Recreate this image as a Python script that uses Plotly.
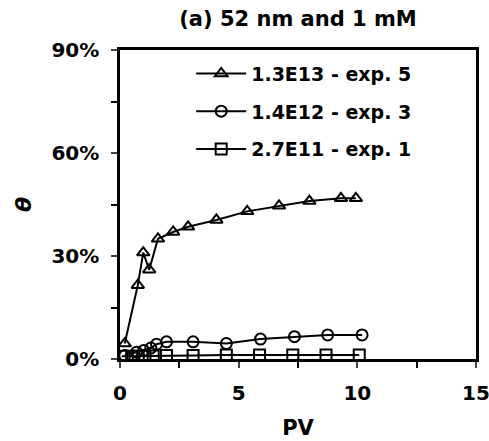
import plotly.graph_objects as go

# exp. 5 (1.3E13)
pv_exp5 = [0.2, 0.75, 0.98, 1.23, 1.6, 2.24, 2.87, 4.06, 5.36, 6.7, 7.98, 9.31, 9.94]
theta_exp5 = [4.5, 21.5, 31, 26, 35, 37, 38.5, 40.5, 43, 44.6, 46, 46.8, 46.8]

# exp. 3 (1.4E12)
pv_exp3 = [0.2, 0.7, 1.0, 1.3, 1.54, 1.96, 3.08, 4.48, 5.92, 7.35, 8.75, 10.2]
theta_exp3 = [1.0, 2.0, 2.5, 3.2, 4.3, 5.0, 5.0, 4.5, 5.8, 6.5, 7.0, 7.0]

# exp. 1 (2.7E11)
pv_exp1 = [0.07, 0.49, 0.77, 1.05, 1.4, 1.96, 3.08, 4.48, 5.88, 7.28, 8.68, 10.08]
theta_exp1 = [0.8, 0.8, 0.8, 0.8, 0.9, 1.0, 1.0, 1.2, 1.2, 1.2, 1.2, 1.2]

names = ["1.3E13 - exp. 5", "1.4E12 - exp. 3", "2.7E11 - exp. 1"]
symbols = ["triangle-up-open", "circle-open", "square-open"]

fig = go.Figure()
for i, (x, y) in enumerate([(pv_exp5, theta_exp5), (pv_exp3, theta_exp3), (pv_exp1, theta_exp1)]):
    fig.add_trace(go.Scatter(
        x=x, y=y, mode="lines+markers", name="<b>" + names[i] + "</b>", legendgroup=str(i),
        line=dict(color="black", width=2),
        marker=dict(symbol=symbols[i], size=11, color="black", line=dict(width=2, color="black")),
    ))

font_fam = "DejaVu Sans, Arial, sans-serif"
fig.update_layout(
    width=489, height=441,
    margin=dict(l=120, r=13, t=50, b=82),
    plot_bgcolor="white", paper_bgcolor="white",
    font=dict(family=font_fam, size=20, color="black"),
    title=dict(text="<b>(a) 52 nm and 1 mM</b>", x=0.5, xref="paper", xanchor="center",
               y=0.958, yanchor="middle", font=dict(size=21)),
    showlegend=True,
    legend=dict(x=0.2, y=0.985, xanchor="left", yanchor="top", bgcolor="rgba(0,0,0,0)",
                font=dict(size=19), tracegroupgap=10, itemwidth=50),
    xaxis=dict(range=[0, 15], dtick=5, tick0=0, ticks="outside", ticklen=6, tickwidth=2,
               showline=True, linewidth=2.5, linecolor="black", mirror=True, showgrid=False,
               zeroline=False, automargin=False, ticklabeloverflow="allow", ticklabelstandoff=8,
               tickfont=dict(size=20), tickprefix="<b>", ticksuffix="</b>",
               minor=dict(dtick=2.5, ticks="outside", ticklen=6, tickwidth=2, tickcolor="black"),
               title=dict(text="<b>PV</b>", font=dict(size=21), standoff=17)),
    yaxis=dict(range=[0, 90], dtick=30, tick0=0, ticks="outside", ticklen=6, tickwidth=2,
               showline=True, linewidth=2.5, linecolor="black", mirror=True, showgrid=False,
               zeroline=False, automargin=False, ticklabeloverflow="allow", ticklabelstandoff=8,
               tickfont=dict(size=20), tickprefix="<b>", ticksuffix="%</b>",
               minor=dict(dtick=15, ticks="outside", ticklen=6, tickwidth=2, tickcolor="black"),
               title=dict(text="<b><i>θ</i></b>", font=dict(size=22), standoff=14)),
)
fig.write_html("out.html")
